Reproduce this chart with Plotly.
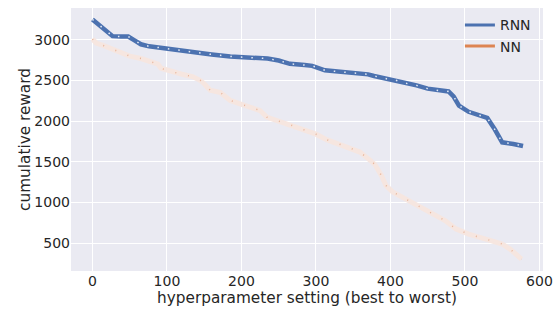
import plotly.graph_objects as go

# Data
rnn_x = [0, 10, 20, 27, 38, 48, 57, 65, 76, 88, 105, 120, 140, 160, 185, 215, 235, 250, 265, 285, 295, 312,
         335, 355, 370, 378, 395, 405, 418, 435, 450, 465, 478, 485, 492, 505, 522, 530, 540, 550, 565, 578]
rnn_y = [3250, 3170, 3090, 3045, 3040, 3040, 2990, 2945, 2920, 2905, 2880, 2870, 2845, 2820, 2795, 2780, 2770,
         2745, 2705, 2690, 2680, 2625, 2605, 2590, 2575, 2555, 2520, 2510, 2470, 2440, 2400, 2375, 2365, 2300,
         2190, 2115, 2070, 2040, 1900, 1740, 1720, 1695]

nn_x = [0, 5, 16, 36, 50, 65, 88, 92, 105, 119, 135, 145, 150, 158, 172, 185, 199, 225, 234, 249, 270, 300,
        315, 340, 359, 370, 379, 388, 394, 403, 425, 448, 474, 488, 505, 528, 540, 550, 561, 576]
nn_y = [3010, 2960, 2925, 2850, 2800, 2770, 2700, 2650, 2610, 2580, 2545, 2500, 2460, 2380, 2350, 2255, 2210,
        2130, 2050, 2005, 1940, 1840, 1770, 1690, 1620, 1540, 1470, 1330, 1210, 1130, 1020, 900, 775, 675,
        612, 550, 520, 490, 425, 304]

x_ticks = [0, 100, 200, 300, 400, 500, 600]
y_ticks = [500, 1000, 1500, 2000, 2500, 3000]

BLUE = "#4C72B0"
ORANGE = "#DD8452"

fig = go.Figure()

# NN: pale line with sparse orange specks
fig.add_trace(go.Scatter(x=nn_x, y=nn_y, mode="lines", showlegend=False, hoverinfo="skip",
                         line=dict(color="#F6E6E0", width=5)))
fig.add_trace(go.Scatter(x=nn_x, y=nn_y, mode="lines", showlegend=False, hoverinfo="skip",
                         line=dict(color="rgba(221,132,82,0.5)", width=1.5, dash="1px,12px")))

# RNN: thick blue line with white specks
fig.add_trace(go.Scatter(x=rnn_x, y=rnn_y, mode="lines", showlegend=False, hoverinfo="skip",
                         line=dict(color=BLUE, width=4.5)))
fig.add_trace(go.Scatter(x=rnn_x, y=rnn_y, mode="lines", showlegend=False, hoverinfo="skip",
                         line=dict(color="rgba(255,255,255,0.85)", width=1.5, dash="1.5px,9px")))

# Legend entries
fig.add_trace(go.Scatter(x=[None], y=[None], mode="lines", name="RNN", line=dict(color=BLUE, width=3)))
fig.add_trace(go.Scatter(x=[None], y=[None], mode="lines", name="NN", line=dict(color=ORANGE, width=3)))

fig.update_layout(
    width=555, height=312,
    margin=dict(l=71, r=12, t=8, b=41, autoexpand=False),
    paper_bgcolor="white",
    plot_bgcolor="#EAEAF2",
    font=dict(family="DejaVu Sans", size=14, color="#262626"),
    legend=dict(x=0.985, y=0.995, xanchor="right", yanchor="top", bgcolor="rgba(0,0,0,0)",
                font=dict(size=14), tracegroupgap=0, itemwidth=30),
)
fig.update_xaxes(range=[-28.8, 604.8], tickvals=x_ticks, showgrid=True, gridcolor="white", gridwidth=1,
                 zeroline=False, showline=False, ticks="", automargin=False,
                 tickfont=dict(size=14),
                 title=dict(text="hyperparameter setting (best to worst)", font=dict(size=15.3), standoff=0))
fig.update_yaxes(range=[158, 3391], tickvals=y_ticks, showgrid=True, gridcolor="white", gridwidth=1,
                 zeroline=False, showline=False, ticks="", automargin=False,
                 tickfont=dict(size=14),
                 title=dict(text="cumulative reward", font=dict(size=15.3), standoff=0))

fig.write_html("out.html", config={"displayModeBar": False},
               post_script="document.body.style.margin='0';")
